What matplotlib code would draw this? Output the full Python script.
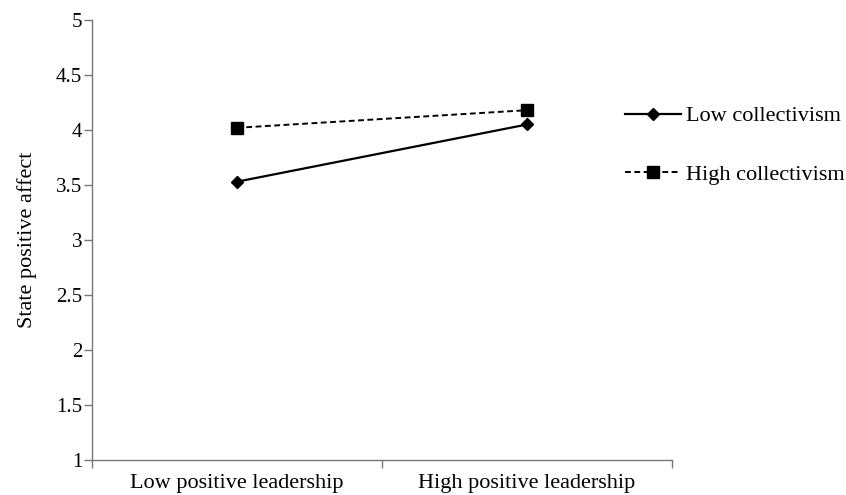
import matplotlib
matplotlib.use("Agg")
import matplotlib.pyplot as plt

categories = ["Low positive leadership", "High positive leadership"]
low_collectivism = [3.53, 4.05]
high_collectivism = [4.02, 4.18]
y_ticks = [1, 1.5, 2, 2.5, 3, 3.5, 4, 4.5, 5]
y_tick_labels = ["1", "1.5", "2", "2.5", "3", "3.5", "4", "4.5", "5"]

plt.rcParams["font.family"] = ["Liberation Serif", "DejaVu Serif"]

fig = plt.figure(figsize=(8.46, 4.95), dpi=100)
ax = fig.add_axes([0.1087, 0.0707, 0.6856, 0.8889])

xs = [i + 0.5 for i in range(len(categories))]
ax.plot(xs, low_collectivism, color="black", lw=1.6, marker="D", ms=6,
        label="Low collectivism")
ax.plot(xs, high_collectivism, color="black", lw=1.4, ls=(0, (3, 1.8)),
        marker="s", ms=8, label="High collectivism")

ax.set_xlim(0, len(categories))
ax.set_ylim(1, 5)
ax.set_yticks(y_ticks)
ax.set_yticklabels(y_tick_labels)

# boundary ticks on the category axis, labels centred in each bin
ax.set_xticks(range(len(categories) + 1))
ax.set_xticklabels([])
ax.set_xticks(xs, minor=True)
ax.set_xticklabels(categories, minor=True)
ax.tick_params(axis="x", which="minor", length=0, pad=10, labelsize=16)
ax.tick_params(axis="x", which="major", length=6, color="#777777", width=1)
ax.tick_params(axis="y", length=6, color="#777777", width=1, labelsize=15, pad=1)

for side in ("top", "right"):
    ax.spines[side].set_visible(False)
for side in ("left", "bottom"):
    ax.spines[side].set_color("#777777")
    ax.spines[side].set_linewidth(1)

ax.set_ylabel("State positive affect", fontsize=16, labelpad=14)

fig.legend(loc="upper left", bbox_to_anchor=(0.739, 0.786), frameon=False,
           fontsize=16, handlelength=2.5, handletextpad=0.22, labelspacing=1.7,
           borderpad=0, borderaxespad=0)

fig.savefig("out.png", dpi=100)
